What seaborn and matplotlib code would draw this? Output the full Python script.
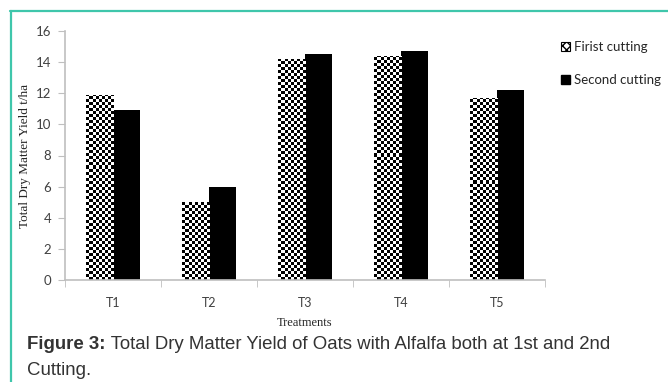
import numpy as np
import pandas as pd
import matplotlib
matplotlib.use("Agg")
import matplotlib.pyplot as plt
import seaborn as sns
from matplotlib.lines import Line2D
from matplotlib.patches import Patch

# chart data
treatments = ["T1", "T2", "T3", "T4", "T5"]
first_cutting = [11.9, 5.0, 14.2, 14.4, 11.7]
second_cutting = [10.9, 6.0, 14.5, 14.7, 12.2]
series_names = ["Firist cutting", "Second cutting"]
y_ticks = [0, 2, 4, 6, 8, 10, 12, 14, 16]

df = pd.DataFrame({
    "Treatment": treatments * 2,
    "Yield": first_cutting + second_cutting,
    "Cutting": [series_names[0]] * 5 + [series_names[1]] * 5,
})

sns.set_style("white")
plt.rcParams["font.family"] = ["Lato", "DejaVu Sans"]

fig = plt.figure(figsize=(6.68, 3.82), dpi=100)
ax = fig.add_axes([65 / 668, 1 - 280 / 382, 480 / 668, 249 / 382])

sns.barplot(data=df, x="Treatment", y="Yield", hue="Cutting",
            palette=["white", "black"], width=0.57, gap=0,
            edgecolor="none", linewidth=0, ax=ax, legend=False)

# checkerboard fill for the first cutting bars
ny, nx = 83, 160
yy, xx = np.indices((ny, nx))
checker = ((xx + yy) % 2).astype(float)
for patch in ax.containers[0]:
    im = ax.imshow(checker, cmap="gray", extent=(-0.5, 4.5, 0, 16),
                   aspect="auto", interpolation="nearest", zorder=2)
    im.set_clip_path(patch)

ax.set_xlim(-0.5, 4.5)
ax.set_ylim(0, 16)
ax.set_yticks(y_ticks)
ax.set_xticks(range(len(treatments)))
ax.set_xticklabels(treatments)

# ticks at the category boundaries, like Excel
ax.set_xticks(np.arange(-0.5, 5, 1), minor=True)
ax.tick_params(axis="x", which="major", length=0, pad=12, labelsize=9,
               labelcolor="#404040")
ax.tick_params(axis="x", which="minor", length=5, color="#bfbfbf",
               direction="out", bottom=True)
ax.tick_params(axis="y", length=5, color="#bfbfbf", direction="out",
               left=True, labelsize=9.5, labelcolor="#404040", pad=5)

for s in ["top", "right"]:
    ax.spines[s].set_visible(False)
for s in ["left", "bottom"]:
    ax.spines[s].set_color("#bfbfbf")
    ax.spines[s].set_linewidth(1.2)

ax.set_xlabel("Treatments", family="Liberation Serif", fontsize=9,
              labelpad=6)
ax.set_ylabel("Total Dry Matter Yield t/ha", family="Liberation Serif",
              fontsize=9.5)
ax.yaxis.set_label_coords(-0.07, 0.5)

handles = [Patch(facecolor="white", edgecolor="black", hatch="xxxx",
                 linewidth=0.8),
           Patch(facecolor="black", edgecolor="black")]
fig.legend(handles, series_names, loc="upper left",
           bbox_to_anchor=(561 / 668, 1 - 41 / 382), frameon=False,
           fontsize=9.5, handlelength=0.65, handleheight=0.65,
           handletextpad=0.35, labelspacing=1.6, borderpad=0,
           borderaxespad=0)

# caption
txt_kw = dict(fontsize=13.4, family="Liberation Sans", color="#333333")
bold = fig.text(27 / 668, 1 - 349 / 382, "Figure 3:", fontweight="bold",
                va="baseline", **txt_kw)
ax.annotate(" Total Dry Matter Yield of Oats with Alfalfa both at 1st and 2nd",
            xy=(1, 0), xycoords=bold, va="bottom", annotation_clip=False,
            **txt_kw)
fig.text(27 / 668, 1 - 375 / 382, "Cutting.", va="baseline", **txt_kw)

# teal frame on the left and top
border = "#3fc6ab"
fig.add_artist(Line2D([10.5 / 668, 10.5 / 668], [0, 1 - 11 / 382],
                      transform=fig.transFigure, color=border, lw=1.6))
fig.add_artist(Line2D([10 / 668, 1], [1 - 11 / 382, 1 - 11 / 382],
                      transform=fig.transFigure, color=border, lw=1.6))

fig.savefig("out.png", dpi=100)
